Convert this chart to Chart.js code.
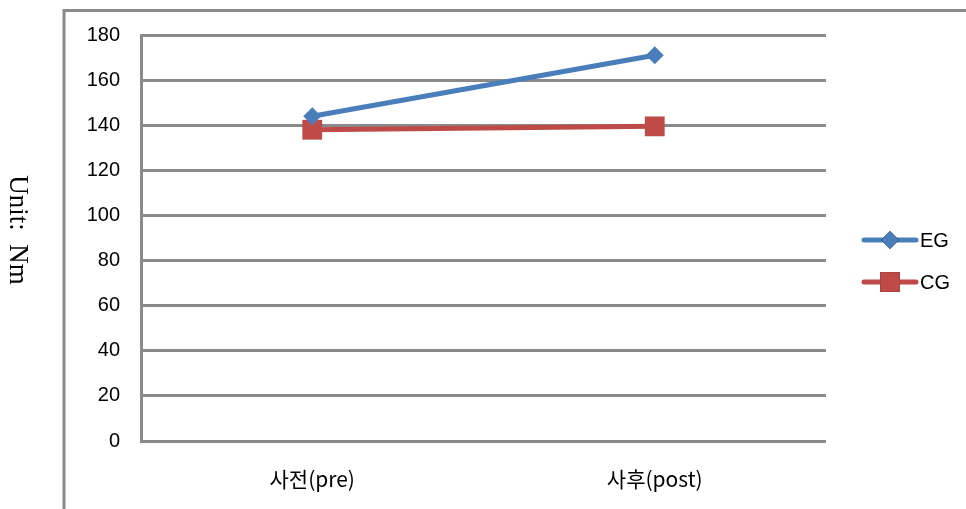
<!DOCTYPE html>
<html>
<head>
<meta charset="utf-8">
<style>
  html, body { margin: 0; padding: 0; background: #fff; }
  #wrap { width: 966px; height: 509px; }
</style>
<script src="https://cdn.jsdelivr.net/npm/chart.js@4/dist/chart.umd.min.js"></script>
</head>
<body>
<div id="wrap"><canvas id="c" width="966" height="509"></canvas></div>
<script>
// torque before / after, Nm
const labels = ['사전(pre)', '사후(post)'];
const egValues = [144, 171];
const cgValues = [138, 139.5];
const yTicks = [0, 20, 40, 60, 80, 100, 120, 140, 160, 180];

const GRID = '#8a8a8a';
const BLUE = '#4a7ebb';
const RED = '#be4b48';

// outer frame, rotated unit label and the legend on the right
const decor = {
  id: 'decor',
  beforeDraw(chart) {
    const ctx = chart.ctx;
    ctx.save();
    ctx.strokeStyle = GRID;
    ctx.lineWidth = 3;
    ctx.beginPath();
    ctx.moveTo(64, 509);
    ctx.lineTo(64, 10.5);
    ctx.lineTo(966, 10.5);
    ctx.stroke();

    ctx.translate(17, 230);
    ctx.rotate(Math.PI / 2);
    ctx.fillStyle = '#000';
    ctx.font = '27px "Liberation Serif"';
    ctx.textAlign = 'center';
    ctx.textBaseline = 'middle';
    ctx.fillText('Unit:  Nm', 0, 0);
    ctx.restore();
  },
  afterDraw(chart) {
    const ctx = chart.ctx;
    const rows = [{ y: 240 }, { y: 282 }];
    chart.data.datasets.forEach((ds, i) => {
      const y = rows[i].y;
      ctx.save();
      ctx.strokeStyle = ds.borderColor;
      ctx.lineWidth = ds.borderWidth;
      ctx.lineCap = 'round';
      ctx.beginPath();
      ctx.moveTo(864, y);
      ctx.lineTo(916, y);
      ctx.stroke();
      Chart.helpers.drawPoint(ctx, {
        pointStyle: ds.pointStyle,
        radius: ds.pointRadius,
        borderWidth: 0,
        rotation: 0
      }, 890, y);
      ctx.fillStyle = ds.borderColor;
      ctx.fill();
      ctx.fillStyle = '#000';
      ctx.font = '20px "Liberation Sans"';
      ctx.textBaseline = 'middle';
      ctx.fillText(ds.label, 920, y + 1);
      ctx.restore();
    });
  }
};

new Chart(document.getElementById('c'), {
  type: 'line',
  data: {
    labels: labels,
    datasets: [
      {
        label: 'EG', data: egValues,
        borderColor: BLUE, backgroundColor: BLUE,
        borderWidth: 5, pointStyle: 'rectRot', pointRadius: 9,
        pointBorderWidth: 0, tension: 0
      },
      {
        label: 'CG', data: cgValues,
        borderColor: RED, backgroundColor: RED,
        borderWidth: 5, pointStyle: 'rect', pointRadius: 14,
        pointBorderWidth: 0, tension: 0
      }
    ]
  },
  options: {
    responsive: false,
    animation: false,
    layout: { padding: { top: 35, right: 140, left: 0, bottom: 0 } },
    plugins: { legend: { display: false }, tooltip: { enabled: false } },
    scales: {
      x: {
        offset: true,
        grid: { display: false, drawTicks: false },
        border: { display: false },
        ticks: {
          padding: 25, color: '#000',
          font: { family: '"Noto Sans CJK KR"', size: 21 }
        },
        afterFit(s) { s.height = 68; }
      },
      y: {
        min: 0, max: 180,
        afterBuildTicks(s) { s.ticks = yTicks.map(v => ({ value: v })); },
        grid: { color: GRID, lineWidth: 3, drawTicks: false },
        border: { display: true, color: GRID, width: 3 },
        ticks: {
          padding: 21, color: '#000',
          font: { family: '"Liberation Sans"', size: 20 }
        },
        afterFit(s) { s.width = 141; }
      }
    }
  },
  plugins: [decor]
});
</script>
</body>
</html>
